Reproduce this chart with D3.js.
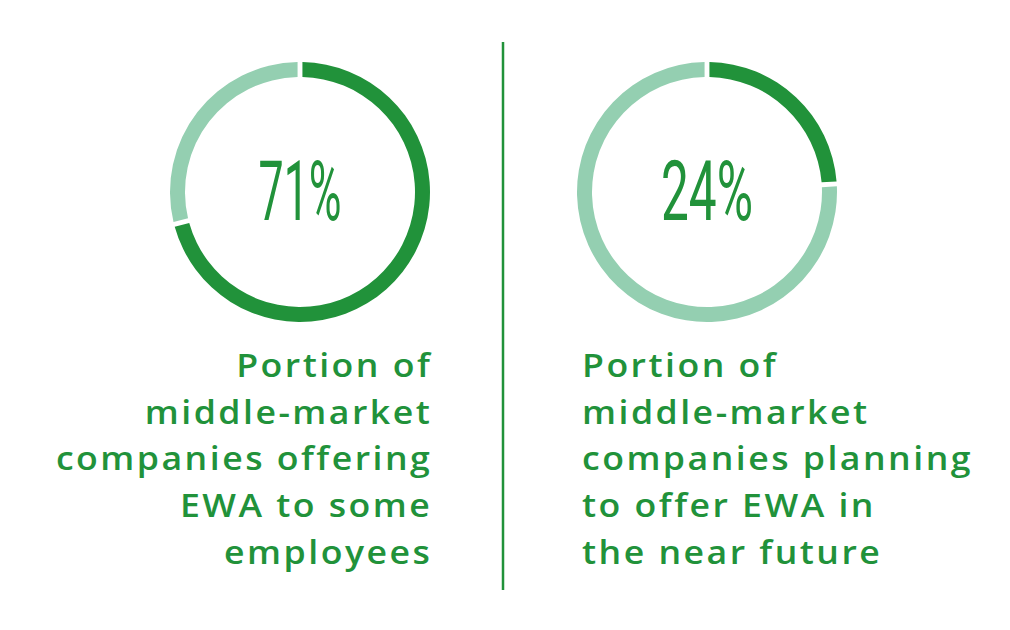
<!DOCTYPE html>
<html><head><meta charset="utf-8">
<script src="https://cdn.jsdelivr.net/npm/d3@7"></script>
<style>body{margin:0;background:#fff}svg{display:block}</style>
</head><body>
<svg id="c" width="1010" height="630"></svg>
<script>
const values = [71, 24];
const valueLabels = ["71%", "24%"];
const captionLeft = ["Portion of", "middle-market", "companies offering", "EWA to some", "employees"];
const captionRight = ["Portion of", "middle-market", "companies planning", "to offer EWA in", "the near future"];

const dark = "#21923a", light = "#94cfb1";
const svg = d3.select("#c");
const centers = [{x: 300, y: 192}, {x: 707, y: 192}];
const pctW = [83, 92];
const pie = d3.pie().sort(null).value(d => d);
const arc = d3.arc().innerRadius(115).outerRadius(130).padAngle(0.028);

values.forEach((v, i) => {
  const g = svg.append("g").attr("transform", `translate(${centers[i].x},${centers[i].y})`);
  g.selectAll("path").data(pie([v, 100 - v])).join("path")
    .attr("d", arc).attr("fill", (d, j) => j === 0 ? dark : light);
  g.append("text").attr("y", 28).attr("text-anchor", "middle")
    .attr("font-family", "Roboto").attr("font-size", 84).attr("fill", dark)
    .attr("textLength", pctW[i]).attr("lengthAdjust", "spacingAndGlyphs")
    .text(valueLabels[i]);
});

svg.append("line").attr("x1", 503).attr("x2", 503).attr("y1", 42).attr("y2", 590)
  .attr("stroke", dark).attr("stroke-width", 2.5);

function caption(lines, x, anchor) {
  const ls = 2.3;
  svg.append("g").selectAll("text").data(lines).join("text")
    .attr("transform", (d, i) => `translate(${anchor === "end" ? x + ls : x},${377 + i * 46.7}) scale(1.08,1)`)
    .attr("text-anchor", anchor)
    .attr("font-family", "Open Sans").attr("font-weight", 600).attr("font-size", 33)
    .attr("letter-spacing", ls).attr("fill", dark)
    .text(d => d);
}
caption(captionLeft, 430, "end");
caption(captionRight, 582, "start");
</script>
</body></html>
